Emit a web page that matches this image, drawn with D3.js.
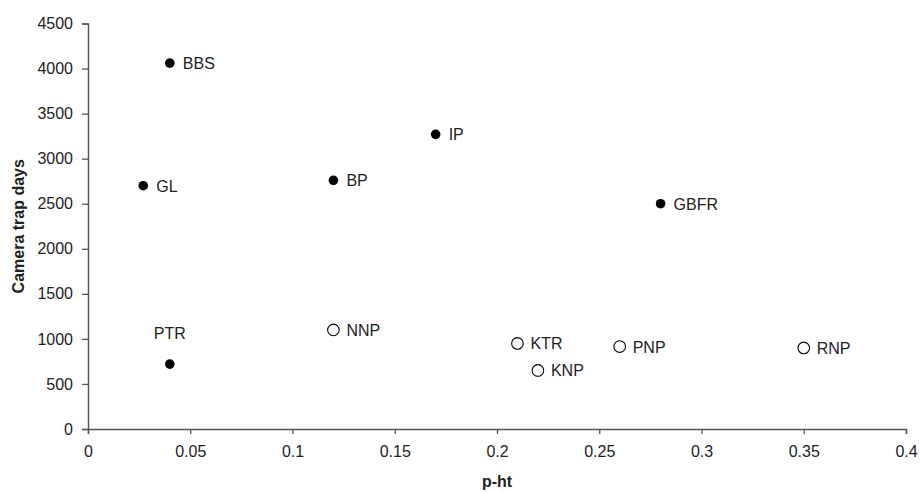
<!DOCTYPE html>
<html>
<head>
<meta charset="utf-8">
<script src="https://cdn.jsdelivr.net/npm/d3@7"></script>
<style>
  body { margin: 0; background: #fff; }
  svg { font-family: "Liberation Sans", Arial, sans-serif; }
</style>
</head>
<body>
<div id="chart"></div>
<script>
// site labels, p-ht and camera trap days
const sites = ["BBS", "IP", "GL", "BP", "GBFR", "PTR", "NNP", "KTR", "KNP", "PNP", "RNP"];
const pht = [0.04, 0.17, 0.027, 0.12, 0.28, 0.04, 0.12, 0.21, 0.22, 0.26, 0.35];
const trapDays = [4060, 3270, 2700, 2760, 2500, 720, 1100, 950, 650, 915, 900];
const filled = [true, true, true, true, true, true, false, false, false, false, false];

const xTicks = [0, 0.05, 0.1, 0.15, 0.2, 0.25, 0.3, 0.35, 0.4];
const yTicks = [0, 500, 1000, 1500, 2000, 2500, 3000, 3500, 4000, 4500];

const width = 921, height = 492;
const margin = { top: 23.5, right: 15, bottom: 63, left: 88 };

const svg = d3.select("#chart")
    .append("svg")
    .attr("width", width)
    .attr("height", height);

const x = d3.scaleLinear()
    .domain([0, 0.4])
    .range([margin.left, width - margin.right]);

const y = d3.scaleLinear()
    .domain([0, 4500])
    .range([height - margin.bottom, margin.top]);

// axes
const xAxis = svg.append("g")
    .attr("transform", `translate(0,${height - margin.bottom})`)
    .call(d3.axisBottom(x).tickValues(xTicks).tickFormat(d => d).tickSizeOuter(0).tickSize(5).tickPadding(12));

const yAxis = svg.append("g")
    .attr("transform", `translate(${margin.left},0)`)
    .call(d3.axisLeft(y).tickValues(yTicks).tickFormat(d => d).tickSizeOuter(0).tickSize(6).tickPadding(9));

[xAxis, yAxis].forEach(a => {
    a.select(".domain").attr("stroke", "#555").attr("stroke-width", 1.5);
    a.selectAll(".tick line").attr("stroke", "#555").attr("stroke-width", 1.3);
    a.selectAll(".tick text")
        .attr("fill", "#222")
        .style("font-size", "16px")
        .style("font-family", "\"Liberation Sans\", Arial, sans-serif");
});

// axis titles
svg.append("text")
    .attr("x", (margin.left + width - margin.right) / 2)
    .attr("y", 487)
    .attr("text-anchor", "middle")
    .style("font-size", "16px")
    .style("font-weight", "bold")
    .attr("fill", "#222")
    .text("p-ht");

svg.append("text")
    .attr("transform", `translate(24,${(margin.top + height - margin.bottom) / 2}) rotate(-90)`)
    .attr("text-anchor", "middle")
    .style("font-size", "16px")
    .style("font-weight", "bold")
    .attr("fill", "#222")
    .text("Camera trap days");

// points
const data = sites.map((s, i) => ({ site: s, x: pht[i], y: trapDays[i], filled: filled[i] }));

const pts = svg.append("g")
    .selectAll("g")
    .data(data)
    .enter()
    .append("g")
    .attr("transform", d => `translate(${x(d.x)},${y(d.y)})`);

pts.append("circle")
    .attr("r", d => d.filled ? 4.8 : 5.8)
    .attr("fill", d => d.filled ? "#000" : "#fff")
    .attr("stroke", "#000")
    .attr("stroke-width", d => d.filled ? 0 : 1.1);

pts.append("text")
    .attr("x", d => d.site === "PTR" ? 0 : 13)
    .attr("y", d => d.site === "PTR" ? -25 : 6)
    .attr("text-anchor", d => d.site === "PTR" ? "middle" : "start")
    .style("font-size", "16px")
    .attr("fill", "#222")
    .text(d => d.site);
</script>
</body>
</html>
